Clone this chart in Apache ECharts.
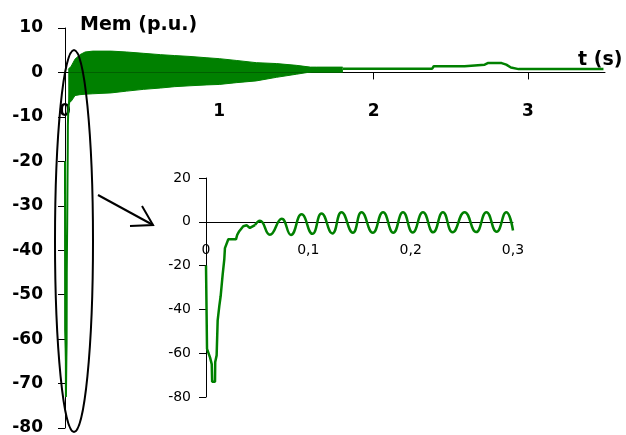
<!DOCTYPE html>
<html><head><meta charset="utf-8">
<script src="https://cdn.jsdelivr.net/npm/echarts@6/dist/echarts.min.js"></script>
<style>html,body{margin:0;padding:0;background:#fff}#c{width:626px;height:435px}</style>
</head><body><div id="c"></div>
<script>
// ---- data ----
// start-up transient (first ~0.05 s)
const transTime = [0, 0.001, 0.004, 0.0056, 0.006, 0.0088, 0.009, 0.0104, 0.0114, 0.013, 0.0143, 0.0163, 0.0179, 0.0185, 0.0218, 0.0293, 0.0305, 0.0325, 0.0364, 0.0397, 0.0429, 0.0478];
const transTorque = [-20, -58, -62, -65, -73, -73, -64, -61, -45, -38.5, -34, -24, -17, -12, -8, -8, -6, -4.3, -2, -1.6, -2.8, -1.5];
// oscillation peaks / troughs (inset, up to 0.3 s)
const oscTime = [0.0478, 0.0527, 0.0624, 0.074, 0.083, 0.0934, 0.104, 0.1129, 0.1235, 0.1324, 0.1435, 0.152, 0.163, 0.173, 0.183, 0.1925, 0.202, 0.212, 0.222, 0.2315, 0.241, 0.2527, 0.264, 0.274, 0.284, 0.2934, 0.300];
const oscTorque = [-1.5, 0.5, -5.9, 1.4, -6, 3.4, -5.5, 3.8, -5.3, 4.4, -5, 4.4, -5, 4.4, -5, 4.4, -4.9, 4.4, -4.8, 4.4, -4.8, 4.4, -4.7, 4.4, -4.6, 4.4, -4];
// envelope of the fast oscillation in the main plot
const envTime = [0.021, 0.04, 0.065, 0.097, 0.13, 0.18, 0.30, 0.40, 0.51, 0.62, 0.71, 0.81, 0.92, 1.00, 1.11, 1.24, 1.37, 1.50, 1.59, 1.63, 1.80];
const envUpper = [0.7, 1.4, 3.0, 4.0, 4.6, 4.8, 4.8, 4.6, 4.3, 4.0, 3.8, 3.6, 3.3, 3.1, 2.7, 2.2, 2.0, 1.6, 1.2, 1.2, 1.2];
const envLower = [-6.8, -6.5, -5.2, -5.0, -4.9, -4.8, -4.6, -4.2, -3.8, -3.5, -3.2, -3.0, -2.8, -2.7, -2.3, -1.9, -1.1, -0.4, 0.1, 0.6, 0.6];
// steady-state tail
const tailTime = [1.80, 2.38, 2.39, 2.59, 2.60, 2.72, 2.74, 2.83, 2.86, 2.89, 2.94, 3.49];
const tailTorque = [0.85, 0.85, 1.4, 1.4, 1.75, 1.75, 2.1, 2.1, 1.75, 1.1, 0.75, 0.75];
// tick labels
const mainXTicks = [0, 1, 2, 3];
const mainXTickMarks = [1, 2, 3];
const insetXTicks = [0, 0.1, 0.2, 0.3];

const pairs = (xs, ys) => xs.map((x, i) => [x, ys[i]]);
const FONT = '"DejaVu Sans", Verdana, sans-serif';
const GREEN = '#008000';
const BLACK = '#000';

// layout
const MAIN = { left: 65, top: 28, width: 540, height: 400, ymin: -80, ymax: 10 };
const INSET = { left: 206, top: 178, width: 307, height: 219, ymin: -80, ymax: 20 };
// shift x axes up so they sit on y = 0
const zeroOffset = g => -g.height * (0 - g.ymin) / (g.ymax - g.ymin);

const chart = echarts.init(document.getElementById('c'), null, { renderer: 'canvas' });
const boldLbl = { color: BLACK, fontSize: 17, fontWeight: 'bold', fontFamily: FONT };
const smallLbl = { color: BLACK, fontSize: 14, fontFamily: FONT };

chart.setOption({
  animation: false,
  backgroundColor: '#fff',
  grid: [
    { left: MAIN.left, top: MAIN.top, width: MAIN.width, height: MAIN.height, outerBoundsMode: 'none' },
    { left: INSET.left, top: INSET.top, width: INSET.width, height: INSET.height, outerBoundsMode: 'none' }
  ],
  xAxis: [
    { gridIndex: 0, type: 'value', min: 0, max: 3.5, interval: 1, position: 'bottom', offset: zeroOffset(MAIN),
      axisLine: { onZero: false, lineStyle: { color: BLACK, width: 1 } },
      axisTick: { show: true, length: 7, customValues: mainXTickMarks, lineStyle: { color: BLACK } },
      axisLabel: Object.assign({ margin: 31, customValues: mainXTicks }, boldLbl),
      splitLine: { show: false } },
    { gridIndex: 1, type: 'value', min: 0, max: 0.3, interval: 0.1, position: 'bottom', offset: zeroOffset(INSET),
      axisLine: { onZero: false, lineStyle: { color: BLACK, width: 1 } },
      axisTick: { show: false },
      axisLabel: Object.assign({ margin: 22, customValues: insetXTicks,
        formatter: v => String(+(+v).toFixed(2)).replace('.', ',') }, smallLbl),
      splitLine: { show: false } }
  ],
  yAxis: [
    { gridIndex: 0, type: 'value', min: MAIN.ymin, max: MAIN.ymax, interval: 10,
      axisLine: { show: true, onZero: false, lineStyle: { color: BLACK, width: 1 } },
      axisTick: { show: true, length: 7, lineStyle: { color: BLACK } },
      axisLabel: Object.assign({ margin: 22 }, boldLbl),
      splitLine: { show: false } },
    { gridIndex: 1, type: 'value', min: INSET.ymin, max: INSET.ymax, interval: 20,
      axisLine: { show: true, onZero: false, lineStyle: { color: BLACK, width: 1 } },
      axisTick: { show: true, length: 7, lineStyle: { color: BLACK } },
      axisLabel: Object.assign({ margin: 15 }, smallLbl),
      splitLine: { show: false } }
  ],
  series: [
    { type: 'line', xAxisIndex: 0, yAxisIndex: 0, data: pairs(envTime, envUpper), showSymbol: false,
      lineStyle: { color: GREEN, width: 1 }, areaStyle: { color: GREEN, opacity: 1 } },
    { type: 'line', xAxisIndex: 0, yAxisIndex: 0, data: pairs(envTime, envLower), showSymbol: false,
      lineStyle: { color: GREEN, width: 1 }, areaStyle: { color: GREEN, opacity: 1 } },
    { type: 'line', xAxisIndex: 0, yAxisIndex: 0, data: pairs(transTime, transTorque), showSymbol: false,
      lineStyle: { color: GREEN, width: 2 } },
    { type: 'line', xAxisIndex: 0, yAxisIndex: 0, data: pairs(tailTime, tailTorque), showSymbol: false,
      lineStyle: { color: GREEN, width: 2.5 } },
    { type: 'line', xAxisIndex: 1, yAxisIndex: 1, data: pairs(transTime, transTorque), showSymbol: false,
      lineStyle: { color: GREEN, width: 2.5 } },
    { type: 'line', xAxisIndex: 1, yAxisIndex: 1, data: pairs(oscTime, oscTorque), showSymbol: false, smooth: 0.5,
      lineStyle: { color: GREEN, width: 2.5 } }
  ],
  graphic: [
    { type: 'text', left: 80, top: 16, z: 100,
      style: { text: 'Mem (p.u.)', fill: BLACK, font: 'bold 19px ' + FONT } },
    { type: 'text', left: 578, top: 51, z: 100,
      style: { text: 't (s)', fill: BLACK, font: 'bold 19px ' + FONT } },
    { type: 'ellipse', z: 100, shape: { cx: 74, cy: 241, rx: 19, ry: 191 },
      style: { fill: 'none', stroke: BLACK, lineWidth: 2 } },
    { type: 'polyline', z: 100, shape: { points: [[98, 195], [153, 225]] },
      style: { fill: 'none', stroke: BLACK, lineWidth: 2 } },
    { type: 'polyline', z: 100, shape: { points: [[130, 226], [153, 225], [142, 206]] },
      style: { fill: 'none', stroke: BLACK, lineWidth: 2 } }
  ]
});
</script></body></html>
